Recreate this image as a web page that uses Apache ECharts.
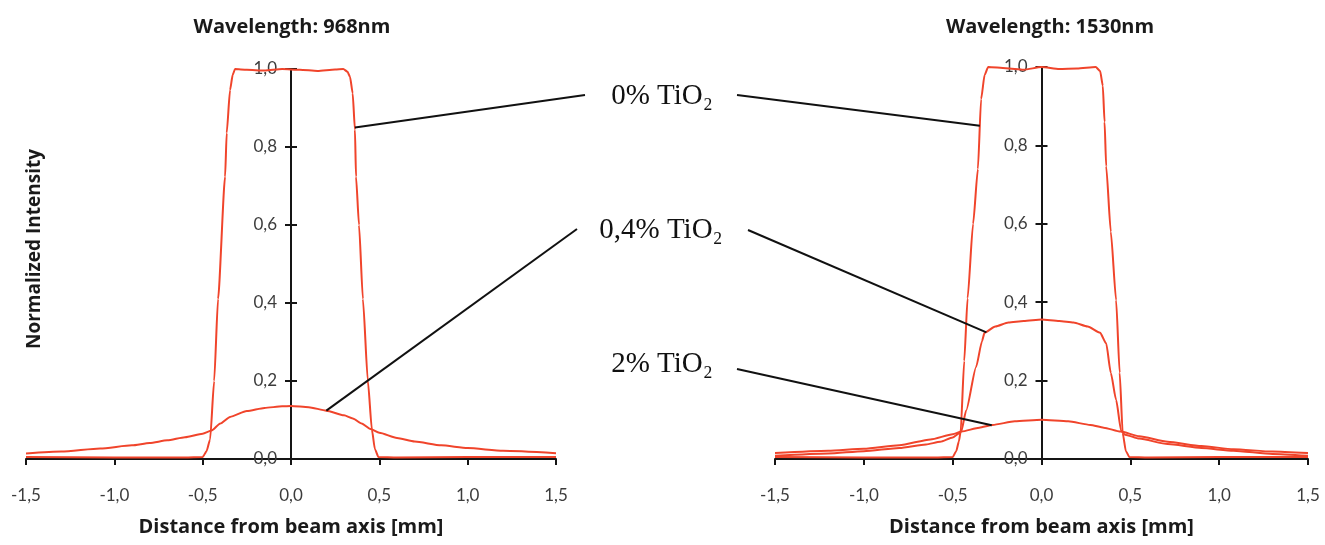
<!DOCTYPE html>
<html>
<head>
<meta charset="utf-8">
<title>Beam profiles</title>
<script src="https://cdn.jsdelivr.net/npm/echarts@6/dist/echarts.min.js"></script>
<style>
html,body{margin:0;padding:0;background:#fff;}
#chart{width:1325px;height:545px;}
</style>
</head>
<body>
<div id="chart"></div>
<script>
// [distance from beam axis (mm), normalized intensity]
var wl968_0 = [[-1.5,0.005],[-1.0,0.004],[-0.6,0.004],[-0.5,0.005],[-0.478,0.02],[-0.458,0.05],[-0.435,0.2],[-0.413,0.41],[-0.373,0.724],[-0.364,0.836],[-0.345,0.946],[-0.33,0.985],[-0.317,1.0],[-0.25,0.998],[-0.15,0.996],[-0.05,1.0],[0.05,0.998],[0.15,0.995],[0.25,0.999],[0.296,1.0],[0.32,0.993],[0.334,0.98],[0.349,0.938],[0.362,0.844],[0.368,0.724],[0.385,0.6],[0.407,0.41],[0.435,0.2],[0.458,0.075],[0.475,0.025],[0.495,0.005],[0.6,0.004],[1.0,0.005],[1.5,0.005]];
var wl968_04 = [[-1.5,0.014],[-1.3,0.019],[-1.08,0.027],[-0.9,0.035],[-0.8,0.041],[-0.7,0.048],[-0.6,0.056],[-0.5,0.065],[-0.45,0.073],[-0.4,0.091],[-0.345,0.108],[-0.25,0.123],[-0.15,0.131],[-0.05,0.135],[0,0.136],[0.1,0.133],[0.2,0.124],[0.3,0.112],[0.35,0.104],[0.4,0.091],[0.45,0.077],[0.5,0.067],[0.6,0.054],[0.7,0.045],[0.85,0.035],[1.0,0.028],[1.2,0.021],[1.5,0.015]];

var wl1530_0 = [[-1.5,0.005],[-1.0,0.004],[-0.6,0.004],[-0.5,0.005],[-0.48,0.02],[-0.465,0.045],[-0.455,0.07],[-0.435,0.25],[-0.416,0.41],[-0.385,0.6],[-0.358,0.74],[-0.34,0.918],[-0.32,0.98],[-0.3,1.0],[-0.2,0.997],[-0.1,0.993],[0,1.0],[0.1,0.995],[0.2,0.996],[0.305,1.0],[0.33,0.99],[0.345,0.952],[0.355,0.86],[0.364,0.747],[0.39,0.58],[0.42,0.405],[0.44,0.22],[0.457,0.066],[0.475,0.02],[0.495,0.005],[0.6,0.004],[1.0,0.005],[1.5,0.005]];
var wl1530_04 = [[-1.5,0.008],[-1.2,0.014],[-1.0,0.02],[-0.8,0.028],[-0.65,0.037],[-0.57,0.044],[-0.5,0.055],[-0.465,0.065],[-0.452,0.07],[-0.424,0.124],[-0.368,0.235],[-0.335,0.3],[-0.321,0.322],[-0.26,0.338],[-0.186,0.348],[-0.1,0.352],[0,0.356],[0.1,0.352],[0.18,0.348],[0.26,0.338],[0.33,0.322],[0.364,0.295],[0.39,0.22],[0.42,0.151],[0.448,0.073],[0.47,0.062],[0.55,0.052],[0.71,0.038],[0.9,0.028],[1.08,0.021],[1.3,0.013],[1.5,0.008]];
var wl1530_2 = [[-1.5,0.015],[-1.2,0.021],[-1.0,0.026],[-0.8,0.035],[-0.625,0.05],[-0.5,0.063],[-0.45,0.07],[-0.35,0.08],[-0.275,0.087],[-0.15,0.096],[0,0.1],[0.15,0.096],[0.275,0.087],[0.35,0.08],[0.445,0.07],[0.55,0.058],[0.71,0.044],[0.9,0.033],[1.08,0.025],[1.3,0.019],[1.5,0.015]];

var titles = ['Wavelength: 968nm', 'Wavelength: 1530nm'];
var xName = 'Distance from beam axis [mm]';
var yName = 'Normalized Intensity';
var tiLabels = ['0% TiO₂', '0,4% TiO₂', '2% TiO₂'];
// points on the curves where the leader lines end: [grid, x, y]
var leaderEnds = [
  [[0, 0.362, 0.85], [1, -0.347, 0.85]],
  [[0, 0.2, 0.124], [1, -0.31, 0.323]],
  [[1, -0.28, 0.086]]
];

var red = '#f0442b';
var axisColor = '#151515';
var comma = function (v) { return v.toFixed(1).replace('.', ','); };
var grids = [
  { left: 26, top: 69, width: 530, height: 390 },
  { left: 775, top: 67, width: 533, height: 392 }
];

var chart = echarts.init(document.getElementById('chart'));

function xAxisFor(g) {
  return {
    type: 'value', gridIndex: g, min: -1.5, max: 1.5, interval: 0.5,
    name: xName, nameLocation: 'middle', nameGap: 58,
    nameTextStyle: { fontFamily: 'Open Sans', fontWeight: 'bold', fontSize: 20, color: '#1a1a1a' },
    axisLine: { onZero: false, lineStyle: { color: axisColor, width: 2 } },
    axisTick: { length: 6, lineStyle: { color: axisColor, width: 2 } },
    axisLabel: { formatter: comma, margin: 28, fontFamily: 'Lato', fontSize: 17, color: '#3c3c3c' },
    splitLine: { show: false }
  };
}
// y axis sits in the middle of the plot (x = 0): shift it from the left edge
function yAxisFor(g, inner) {
  return {
    type: 'value', gridIndex: g, min: 0, max: 1, interval: 0.2, position: 'left',
    offset: -grids[g].width / 2,
    axisLine: { show: !inner, onZero: false, lineStyle: { color: axisColor, width: 2 } },
    axisTick: { inside: inner, length: 6, lineStyle: { color: axisColor, width: 2 } },
    axisLabel: { show: !inner, formatter: comma, margin: 14, fontFamily: 'Lato', fontSize: 17, color: '#3c3c3c' },
    splitLine: { show: false }
  };
}
function line(data, axis) {
  return {
    type: 'line', data: data, xAxisIndex: axis, yAxisIndex: axis * 2,
    showSymbol: false, smooth: 0.2, smoothMonotone: 'x',
    lineStyle: { color: red, width: 2 }, z: 3
  };
}

chart.setOption({
  backgroundColor: '#fff',
  animation: false,
  title: [
    { text: titles[0], left: 287, top: 12, textAlign: 'center',
      textStyle: { fontFamily: 'Open Sans', fontWeight: 'bold', fontSize: 20, color: '#1a1a1a' } },
    { text: titles[1], left: 1045, top: 12, textAlign: 'center',
      textStyle: { fontFamily: 'Open Sans', fontWeight: 'bold', fontSize: 20, color: '#1a1a1a' } }
  ],
  grid: grids.map(function (g) {
    return Object.assign({ outerBoundsMode: 'none', containLabel: false }, g);
  }),
  xAxis: [xAxisFor(0), xAxisFor(1)],
  yAxis: [yAxisFor(0, false), yAxisFor(0, true), yAxisFor(1, false), yAxisFor(1, true)],
  series: [
    line(wl968_0, 0), line(wl968_04, 0),
    line(wl1530_0, 1), line(wl1530_04, 1), line(wl1530_2, 1)
  ]
});

// annotations: labels in the gap, leader lines to the curves
var labelPos = [[662, 96], [661, 230], [662, 364]];
var lineStart = [[[585, 95], [737, 95]], [[577, 229], [748, 230]], [[737, 369]]];
var graphic = [{
  type: 'text', x: 35, y: 249, rotation: Math.PI / 2,
  style: { text: yName, fontFamily: 'Open Sans', fontWeight: 'bold', fontSize: 19, fill: '#1a1a1a',
           align: 'center', verticalAlign: 'middle' }
}];
tiLabels.forEach(function (t, i) {
  graphic.push({
    type: 'text', x: labelPos[i][0], y: labelPos[i][1],
    style: { text: t, fontFamily: 'Liberation Serif', fontSize: 29, fill: '#111',
             align: 'center', verticalAlign: 'middle' }
  });
  leaderEnds[i].forEach(function (e, k) {
    var p = chart.convertToPixel({ gridIndex: e[0] }, [e[1], e[2]]);
    graphic.push({
      type: 'line', z: 10,
      shape: { x1: lineStart[i][k][0], y1: lineStart[i][k][1], x2: p[0], y2: p[1] },
      style: { stroke: '#111', lineWidth: 2 }
    });
  });
});
chart.setOption({ graphic: graphic });
</script>
</body>
</html>
